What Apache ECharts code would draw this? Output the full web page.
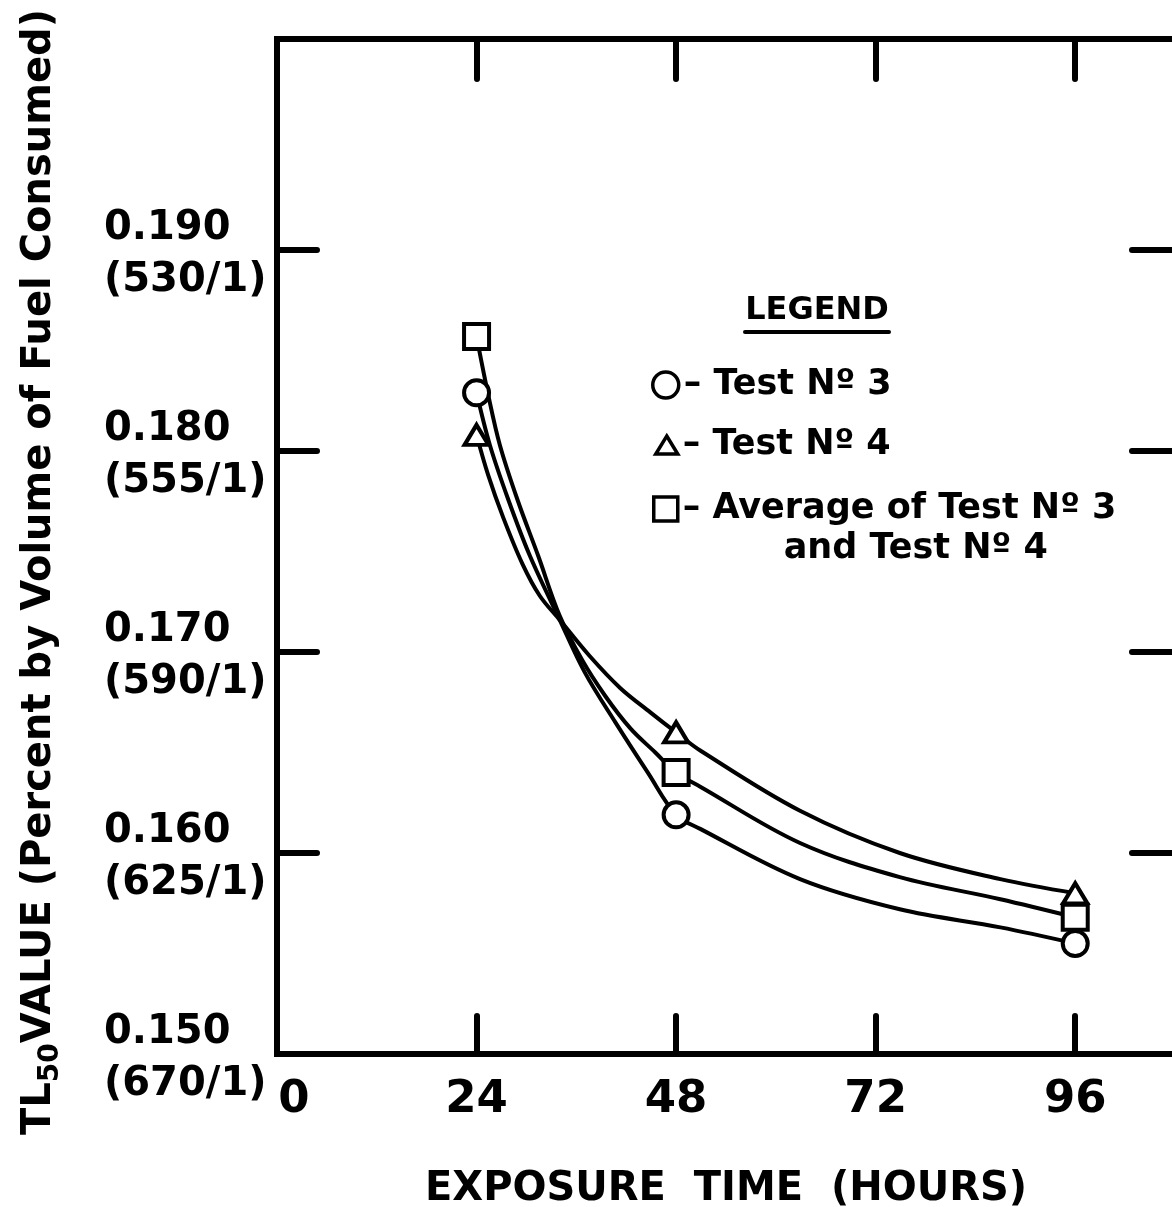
<!DOCTYPE html>
<html><head><meta charset="utf-8">
<script src="https://cdn.jsdelivr.net/npm/echarts@6/dist/echarts.min.js"></script>
<style>html,body{margin:0;padding:0;background:#fff}#c{width:1172px;height:1207px}</style>
</head><body><div id="c"></div>
<script>
// ---- data ----
const hours = [24, 48, 96];
const test3 = [0.1829, 0.1619, 0.1555];
const test4 = [0.1808, 0.1660, 0.1580];
const average = [0.1857, 0.1640, 0.1568];

// fitted curves
const curve3Hours  = [24, 25.6, 27.8, 30.4, 34.0, 37.0, 40.7, 44.6, 48, 50.9, 62.9, 74.9, 87.0, 96];
const curve3Values = [0.1829, 0.1803, 0.1776, 0.1748, 0.1716, 0.1690, 0.1665, 0.1640, 0.1619, 0.1612, 0.1587, 0.1572, 0.1563, 0.1555];
const curve4Hours  = [24, 25.4, 27.2, 29.5, 31.6, 34.0, 37.6, 41.3, 44.9, 48, 50.9, 62.9, 74.9, 87.0, 96];
const curve4Values = [0.1808, 0.1788, 0.1767, 0.1744, 0.1728, 0.1716, 0.1698, 0.1682, 0.1670, 0.1660, 0.1651, 0.1621, 0.1600, 0.1587, 0.1580];
const curveAvgHours  = [24, 25.4, 26.8, 28.9, 31.4, 34.0, 36.7, 39.5, 42.5, 45.5, 48, 50.9, 62.9, 74.9, 87.0, 96];
const curveAvgValues = [0.1857, 0.1828, 0.1803, 0.1776, 0.1748, 0.1718, 0.1696, 0.1678, 0.1662, 0.1650, 0.1640, 0.1633, 0.1605, 0.1588, 0.1577, 0.1568];

const xLabelValues = [0, 24, 48, 72, 96];
const xTickValues = [24, 48, 72, 96];
const yLabelValues = [0.15, 0.16, 0.17, 0.18, 0.19];
const yTickValues = [0.16, 0.17, 0.18, 0.19];
const yLabelPercent = ['0.150', '0.160', '0.170', '0.180', '0.190'];
const yLabelRatio = ['(670/1)', '(625/1)', '(590/1)', '(555/1)', '(530/1)'];
const names = ['Test Nº 3', 'Test Nº 4', 'Average of Test Nº 3 and Test Nº 4'];

// ---- chart ----
const FONT = 'DejaVu Sans';
const X_MIN = 0, X_MAX = 108, Y_MIN = 0.15, Y_MAX = 0.2005;
const zip = (a, b) => a.map((v, i) => [v, b[i]]);

const symStyle = { color: '#fff', borderColor: '#000', borderWidth: 4, opacity: 1 };
const lineStyle = { color: '#000', width: 4 };
const axisLineStyle = { color: '#000', width: 6, cap: 'square' };
const tickLineStyle = { color: '#000', width: 6, cap: 'round' };

function curve(name, h, v) {
  return { name: name, type: 'line', data: zip(h, v), smooth: 0.35,
    showSymbol: false, symbol: 'none', lineStyle: lineStyle, z: 2, silent: true };
}
function points(name, vals, symbol, size, z) {
  return { name: name, type: 'scatter', data: zip(hours, vals), symbol: symbol, symbolSize: size,
    itemStyle: symStyle, z: z };
}
const legendText = { fontFamily: FONT, fontWeight: 'bold', fontSize: 35, color: '#000', lineHeight: 40 };
function legend(name, top, left, w, h, formatter, rich) {
  return { data: [name], orient: 'vertical', top: top, left: left, padding: 0,
    itemWidth: w, itemHeight: h, selectedMode: false, formatter: formatter,
    itemStyle: { color: '#fff', borderColor: '#000', borderWidth: 3.5, opacity: 1 },
    textStyle: Object.assign({}, legendText, rich ? { rich: rich } : {}) };
}
const yLabelFont = { fontFamily: FONT, fontWeight: 'bold', fontSize: 40, lineHeight: 52, color: '#000' };

const option = {
  animation: false,
  backgroundColor: '#fff',
  textStyle: { fontFamily: FONT },
  grid: { left: 277, right: -3, top: 39, bottom: 153, show: false, containLabel: false, outerBoundsMode: 'none' },
  xAxis: [{
    type: 'value', position: 'bottom', min: X_MIN, max: X_MAX,
    axisLine: { onZero: false, lineStyle: axisLineStyle },
    axisTick: { inside: true, length: 38, customValues: xTickValues, lineStyle: tickLineStyle },
    splitLine: { show: false },
    axisLabel: { customValues: xLabelValues, margin: 46, verticalAlign: 'middle',
      fontFamily: FONT, fontWeight: 'bold', fontSize: 45, color: '#000',
      formatter: v => v === 0 ? '{z|0}' : String(v),
      rich: { z: { fontFamily: FONT, fontWeight: 'bold', fontSize: 45, color: '#000', padding: [0, 0, 0, 34] } } },
    name: 'EXPOSURE  TIME  (HOURS)', nameLocation: 'middle', nameGap: 136,
    nameTextStyle: { fontFamily: FONT, fontWeight: 'bold', fontSize: 40, color: '#000', verticalAlign: 'middle' }
  }, {
    type: 'value', position: 'top', min: X_MIN, max: X_MAX,
    axisLine: { onZero: false, lineStyle: axisLineStyle },
    axisTick: { inside: true, length: 40, customValues: xTickValues, lineStyle: tickLineStyle },
    axisLabel: { show: false }, splitLine: { show: false }
  }],
  yAxis: [{
    type: 'value', position: 'left', min: Y_MIN, max: Y_MAX,
    axisLine: { onZero: false, lineStyle: axisLineStyle },
    axisTick: { inside: true, length: 40, customValues: yTickValues, lineStyle: tickLineStyle },
    splitLine: { show: false },
    axisLabel: { customValues: yLabelValues, align: 'left', margin: 173,
      fontFamily: FONT, fontWeight: 'bold', fontSize: 40, lineHeight: 52, color: '#000',
      formatter: v => {
        const i = yLabelValues.findIndex(t => Math.abs(t - v) < 1e-6);
        return i < 0 ? '' : '{sp|}\n{p|' + yLabelPercent[i] + '}\n{p|' + yLabelRatio[i] + '}';
      },
      rich: { sp: { fontSize: 1, lineHeight: 10 }, p: yLabelFont } }
  }, {
    type: 'value', position: 'right', min: Y_MIN, max: Y_MAX,
    axisLine: { onZero: false, lineStyle: axisLineStyle },
    axisTick: { inside: true, length: 43, customValues: yTickValues, lineStyle: tickLineStyle },
    axisLabel: { show: false }, splitLine: { show: false }
  }],
  legend: [
    legend(names[0], 365, 651, 26, 26, () => '– Test Nº 3'),
    legend(names[1], 425, 654, 22, 18, () => '– Test Nº 4'),
    legend(names[2], 449, 652, 24, 24,
      () => '{a|}\n{a|– Average of Test Nº 3}\n{b|and Test Nº 4}',
      { a: Object.assign({}, legendText), b: Object.assign({ padding: [0, 0, 0, 101] }, legendText) })
  ],
  graphic: [
    { type: 'text', x: 40, y: 572, rotation: Math.PI / 2,
      style: { text: '{m|TL}{s|50}{m|VALUE (Percent by Volume of Fuel Consumed)}',
        align: 'center', verticalAlign: 'middle',
        rich: {
          m: { fontFamily: FONT, fontWeight: 'bold', fontSize: 40, lineHeight: 50, fill: '#000', verticalAlign: 'middle' },
          s: { fontFamily: FONT, fontWeight: 'bold', fontSize: 28, lineHeight: 50, fill: '#000', verticalAlign: 'bottom' }
        } } },
    { type: 'text', x: 817, y: 311,
      style: { text: 'LEGEND', fontFamily: FONT, fontWeight: 'bold', fontSize: 32, fill: '#000',
        align: 'center', verticalAlign: 'middle' } },
    { type: 'line', shape: { x1: 745, y1: 332, x2: 889, y2: 332 },
      style: { stroke: '#000', lineWidth: 4, lineCap: 'round' } }
  ],
  series: [
    curve('curve3', curve3Hours, curve3Values),
    curve('curve4', curve4Hours, curve4Values),
    curve('curveAvg', curveAvgHours, curveAvgValues),
    points(names[0], test3, 'circle', 25, 3),
    points(names[2], average, 'rect', 25, 4),
    points(names[1], test4, 'triangle', [24, 20], 5)
  ]
};
const chart = echarts.init(document.getElementById('c'));
chart.setOption(option);
</script>
</body></html>
